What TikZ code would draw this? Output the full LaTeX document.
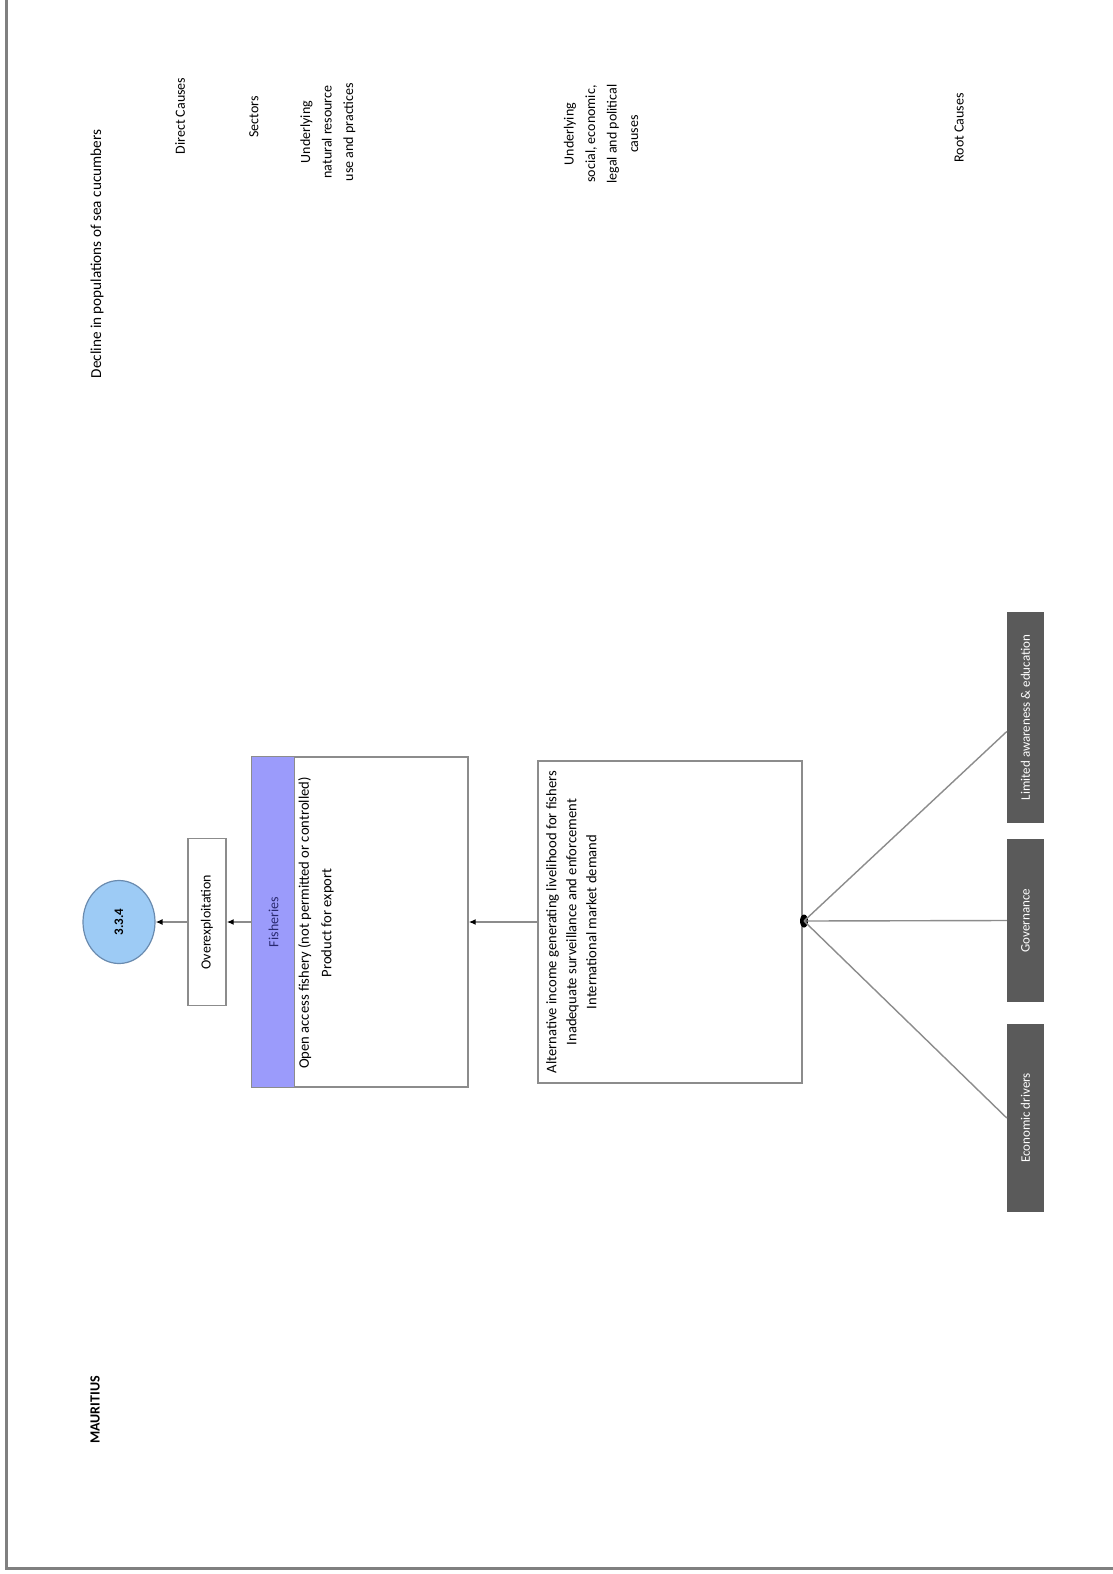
\documentclass[tikz,border=0pt]{standalone}
\usepackage{fontspec}
\setmainfont{Carlito}
\usetikzlibrary{arrows.meta,shapes.geometric}
\definecolor{edgegray}{HTML}{8C8C8C}
\definecolor{framegray}{HTML}{808080}
\definecolor{circfill}{HTML}{9DCBF5}
\definecolor{circedge}{HTML}{6A8BAF}
\definecolor{stripfill}{HTML}{9B9BFB}
\definecolor{striptext}{HTML}{2A2A70}
\definecolor{darkfill}{HTML}{5A5A5A}
\begin{document}
\begin{tikzpicture}[x=1pt,y=-1pt,
  txt/.style={rotate=90, font=\fontsize{14}{21.5}\selectfont, align=center, inner sep=0pt},
  box/.style={draw=edgegray, line width=1.4pt, fill=white, inner sep=0pt},
  darkbox/.style={fill=darkfill, draw=none, minimum width=37pt, inner sep=0pt},
  conn/.style={draw=edgegray, line width=1.4pt, -{Latex[black,length=7pt,width=6pt]}},
  spoke/.style={draw=edgegray, line width=1.4pt},
]
% page and frame
\fill[white] (0,0) rectangle (1113,1574);
\useasboundingbox (0,0) rectangle (1113,1574);
\draw[framegray, line width=3pt] (6.5,0) -- (6.5,1568) -- (1113,1568);

% column headers
\node[txt, font=\fontsize{15.2}{21.5}\selectfont] (title) at (97,254) {Decline in populations of sea cucumbers};
\node[txt] (hdirect) at (180,116) {Direct Causes};
\node[txt] (hsector) at (254,117) {Sectors};
\node[txt] (hnatural) at (328,132) {Underlying\\natural resource\\use and practices};
\node[txt] (hsocial) at (601,134) {Underlying\\social, economic,\\legal and political\\causes};
\node[txt] (hroot) at (959,128) {Root Causes};
\node[txt, font=\fontsize{14}{21}\selectfont\bfseries] (country) at (95,1410) {MAURITIUS};

% target
\node[ellipse, draw=circedge, fill=circfill, line width=1.2pt, minimum width=72pt, minimum height=83pt, inner sep=0pt] (goal) at (119,922) {};
\node[txt, font=\fontsize{13}{16}\selectfont\bfseries] at (goal) {3.3.4};

% direct cause
\node[box, minimum width=38pt, minimum height=167pt] (overx) at (207,922) {};
\node[txt] at (overx) {Overexploitation};

% sector
\node[box, minimum width=216pt, minimum height=330pt] (fish) at (360,922) {};
\draw[edgegray, line width=1.4pt, fill=stripfill] (fish.north west) rectangle ([xshift=43pt]fish.south west);
\node[txt, text=striptext] at (273.5,922) {Fisheries};
\node[txt, anchor=north, font=\fontsize{14.6}{22.5}\selectfont] at (298,923) {Open access fishery (not permitted or controlled)\\Product for export};

% underlying causes
\node[box, minimum width=264pt, minimum height=322pt] (cause) at (670,922) {};
\node[txt, anchor=north, font=\fontsize{14.6}{20}\selectfont] at (546,922) {Alternative income generating livelihood for fishers\\Inadequate surveillance and enforcement\\International market demand};

% root causes
\node[darkbox, minimum height=211pt] (lim) at (1025.5,717.5) {};
\node[txt, text=white, font=\fontsize{13}{16}\selectfont] at (lim) {Limited awareness \& education};
\node[darkbox, minimum height=163pt] (gov) at (1025.5,920.5) {};
\node[txt, text=white, font=\fontsize{13}{16}\selectfont] at (gov) {Governance};
\node[darkbox, minimum height=188pt] (eco) at (1025.5,1118) {};
\node[txt, text=white, font=\fontsize{13}{16}\selectfont] at (eco) {Economic drivers};

% connectors
\node[ellipse, fill=black, minimum width=8pt, minimum height=13pt, inner sep=0pt] (hub) at (804,921) {};
\draw[spoke] (hub.center) -- ([yshift=-14pt]lim.west);
\draw[spoke] (hub.center) -- (gov.west);
\draw[spoke] (hub.center) -- (eco.west);
\draw[conn] (cause.west) -- (fish.east);
\draw[conn] (fish.west) -- (overx.east);
\draw[conn] (overx.west) -- (goal.east);
\end{tikzpicture}
\end{document}
